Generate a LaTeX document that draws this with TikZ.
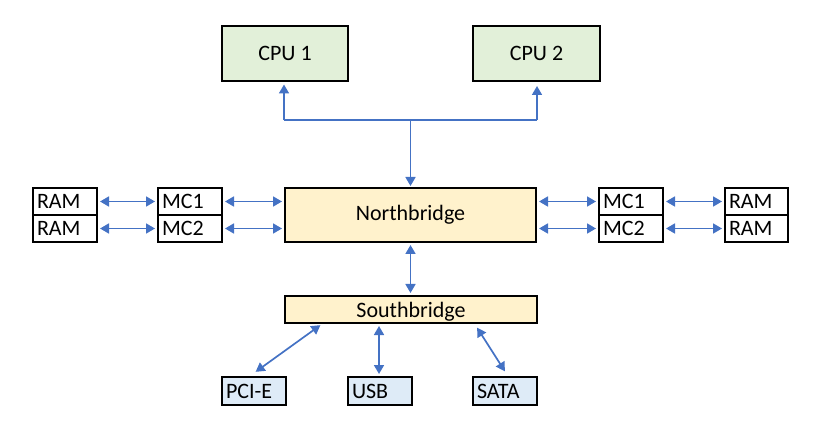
\documentclass[tikz,border=0pt]{standalone}
\usepackage{fontspec}
\setmainfont{Carlito}
\usetikzlibrary{arrows.meta,calc}
\definecolor{cpugreen}{HTML}{E2F0D9}
\definecolor{bridgeyel}{HTML}{FFF2CC}
\definecolor{iob}{HTML}{DEEBF7}
\definecolor{wireblue}{HTML}{4472C4}
\tikzset{
  box/.style={draw=black, line width=2pt, inner sep=0pt, font=\fontsize{22}{26}\selectfont},
  cbox/.style={box, align=center},
  lbox/.style={box, inner xsep=4pt, text width=#1-8pt, minimum width=#1, align=left, minimum height=27pt, text depth=0pt},
  wire/.style={draw=wireblue, line width=1.7pt},
  arr/.style={wire, -{Triangle[length=9pt,width=10pt]}, shorten >=2pt},
  darr/.style={wire, {Triangle[length=9pt,width=10pt]}-{Triangle[length=9pt,width=10pt]}, shorten >=2pt, shorten <=2pt}
}
\begin{document}
\begin{tikzpicture}[x=1pt,y=-1pt]
\useasboundingbox (0,0) rectangle (813,427);
% CPUs
\node[cbox, fill=cpugreen, minimum width=126pt, minimum height=55pt] (cpu1) at (285,53.5) {CPU 1};
\node[cbox, fill=cpugreen, minimum width=127pt, minimum height=55pt] (cpu2) at (536.5,53.5) {CPU 2};
% bridges
\node[cbox, fill=bridgeyel, minimum width=251pt, minimum height=54pt] (nb) at (410.5,215) {Northbridge};
\node[cbox, fill=bridgeyel, minimum width=252pt, minimum height=27pt, text depth=0pt] (sb) at (411,309.5) {Southbridge};
% left memory
\node[lbox=64pt, fill=white] (raml1) at (65,201.5) {RAM};
\node[lbox=64pt, fill=white] (raml2) at (65,228.5) {RAM};
\node[lbox=64pt, fill=white] (mcl1) at (190,201.5) {MC1};
\node[lbox=64pt, fill=white] (mcl2) at (190,228.5) {MC2};
% right memory
\node[lbox=64pt, fill=white] (mcr1) at (631,201.5) {MC1};
\node[lbox=64pt, fill=white] (mcr2) at (631,228.5) {MC2};
\node[lbox=63pt, fill=white] (ramr1) at (756.5,201.5) {RAM};
\node[lbox=63pt, fill=white] (ramr2) at (756.5,228.5) {RAM};
% io
\node[lbox=64pt, fill=iob, minimum height=28pt] (pci) at (254,391) {PCI-E};
\node[lbox=64pt, fill=iob, minimum height=28pt] (usb) at (380,391) {USB};
\node[lbox=64pt, fill=iob, minimum height=28pt] (sata) at (505,391) {SATA};
% CPU bus
\coordinate (bl) at (284,120);
\coordinate (br) at (537,120);
\coordinate (bm) at (410.5,120);
\draw[wire] (bl) -- (br);
\draw[arr, shorten >=2.5pt] (bl) -- (bl |- cpu1.south);
\draw[arr, shorten >=4pt] (br) -- (br |- cpu2.south);
\draw[arr, shorten >=1pt] (bm) -- (nb.north);
% memory links
\draw[darr] (raml1.east) -- (mcl1.west);
\draw[darr] (raml2.east) -- (mcl2.west);
\draw[darr] (mcl1.east) -- (mcl1.east -| nb.west);
\draw[darr] (mcl2.east) -- (mcl2.east -| nb.west);
\draw[darr] (mcr1.west -| nb.east) -- (mcr1.west);
\draw[darr] (mcr2.west -| nb.east) -- (mcr2.west);
\draw[darr] (mcr1.east) -- (ramr1.west);
\draw[darr] (mcr2.east) -- (ramr2.west);
% NB-SB
\draw[darr] (nb.south) -- (nb.south |- sb.north);
% SB-IO
\draw[darr] ($(sb.south west)+(38,0)$) -- ($(pci.north west)+(33,-3)$);
\draw[darr] (usb.north -| 379,0) -- (sb.south -| 379,0);
\draw[darr] ($(sb.south west)+(192,2)$) -- ($(sata.north west)+(34,-3)$);
\end{tikzpicture}
\end{document}
